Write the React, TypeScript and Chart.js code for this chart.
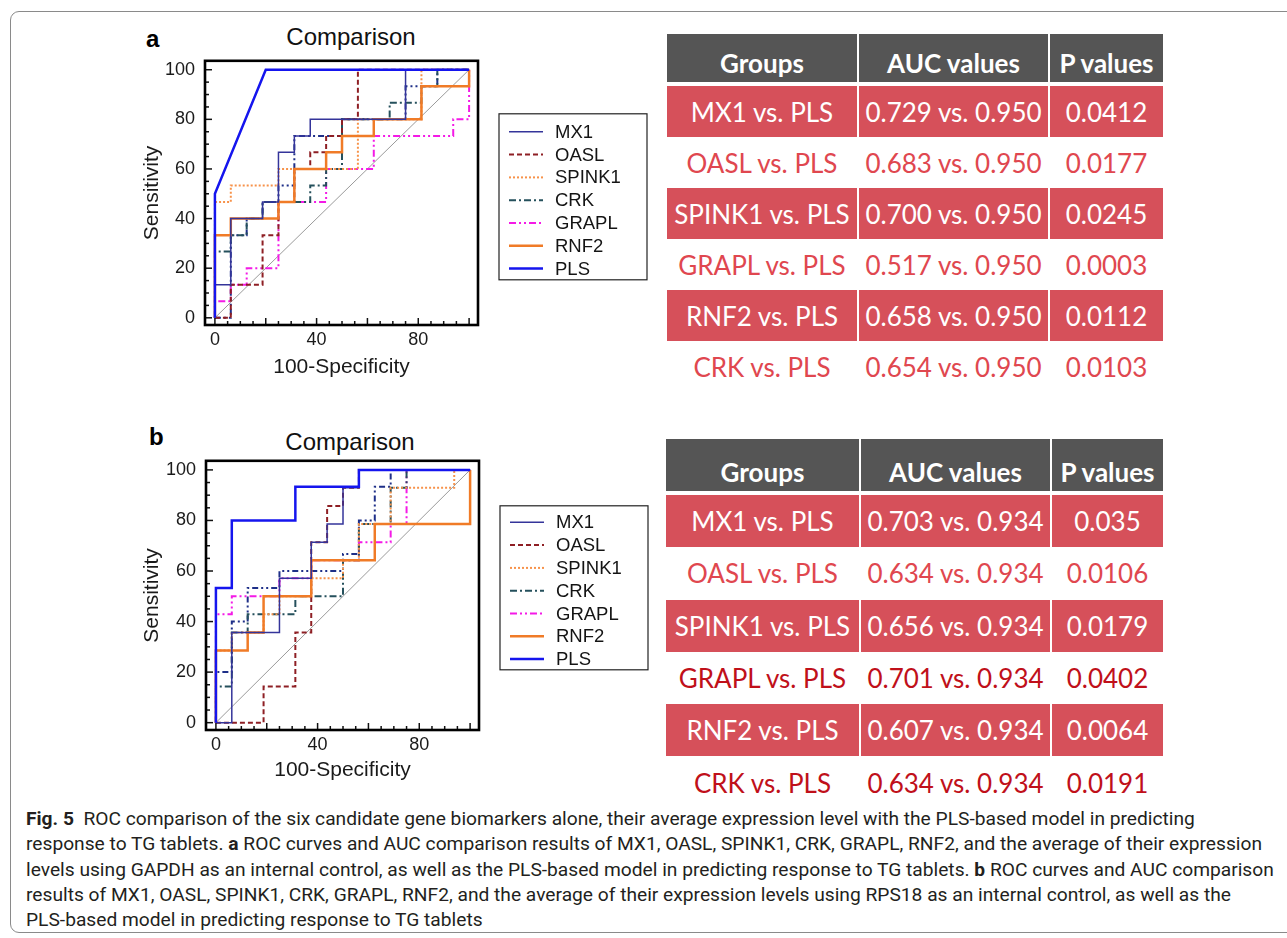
import React, { useEffect, useRef } from 'react';
import { Chart, registerables } from 'chart.js';

Chart.register(...registerables);

type Pt = [number, number];

// ---------- data ----------
const seriesNames = ['MX1', 'OASL', 'SPINK1', 'CRK', 'GRAPL', 'RNF2', 'PLS'];
const xTickValues = [0, 40, 80];
const yTickValues = [0, 20, 40, 60, 80, 100];
const refLine: Pt[] = [[0, 0], [100, 100]];

// panel a (GAPDH)
const aMX1: Pt[] = [[0, 0], [0, 13.3], [6.25, 13.3], [6.25, 40], [18.75, 40], [18.75, 46.7], [25, 46.7], [25, 66.7], [31.25, 66.7], [31.25, 73.3], [37.5, 73.3], [37.5, 80], [75, 80], [75, 100], [100, 100]];
const aOASL: Pt[] = [[0, 0], [6.25, 0], [6.25, 13.3], [18.75, 13.3], [18.75, 33.3], [25, 33.3], [25, 46.7], [31.25, 46.7], [31.25, 60], [37.5, 60], [37.5, 66.7], [43.75, 66.7], [43.75, 73.3], [50, 73.3], [50, 80], [56.25, 80], [56.25, 100], [100, 100]];
const aSPINK1: Pt[] = [[0, 0], [0, 46.7], [6.25, 46.7], [6.25, 53.3], [25, 53.3], [25, 60], [56.25, 60], [56.25, 80], [81.25, 80], [81.25, 100], [100, 100]];
const aCRK: Pt[] = [[0, 0], [0, 26.7], [6.25, 26.7], [6.25, 33.3], [12.5, 33.3], [12.5, 40], [18.75, 40], [18.75, 46.7], [37.5, 46.7], [37.5, 53.3], [43.75, 53.3], [43.75, 60], [50, 60], [50, 80], [68.75, 80], [68.75, 86.7], [81.25, 86.7], [81.25, 93.3], [87.5, 93.3], [87.5, 100], [100, 100]];
const aGRAPL: Pt[] = [[0, 0], [0, 6.7], [6.25, 6.7], [6.25, 13.3], [12.5, 13.3], [12.5, 20], [25, 20], [25, 46.7], [43.75, 46.7], [43.75, 60], [62.5, 60], [62.5, 73.3], [93.75, 73.3], [93.75, 80], [100, 80], [100, 100]];
const aRNF2: Pt[] = [[0, 0], [0, 33.3], [6.25, 33.3], [6.25, 40], [25, 40], [25, 46.7], [31.25, 46.7], [31.25, 60], [43.75, 60], [43.75, 66.7], [50, 66.7], [50, 73.3], [62.5, 73.3], [62.5, 80], [81.25, 80], [81.25, 93.3], [100, 93.3], [100, 100]];
const aPLS: Pt[] = [[0, 0], [0, 50], [20, 100], [100, 100]];
const aAverage: Pt[] = [[0, 0], [6.25, 0], [6.25, 33.3], [12.5, 33.3], [12.5, 40], [18.75, 40], [18.75, 46.7], [25, 46.7], [25, 53.3], [31.25, 53.3], [31.25, 73.3], [50, 73.3], [50, 80], [75, 80], [75, 93.3], [87.5, 93.3], [87.5, 100], [100, 100]];

// panel b (RPS18)
const bMX1: Pt[] = [[0, 0], [6.25, 0], [6.25, 35.7], [25, 35.7], [25, 57.1], [37.5, 57.1], [37.5, 71.4], [43.75, 71.4], [43.75, 78.6], [50, 78.6], [50, 92.9], [56.25, 92.9], [56.25, 100], [100, 100]];
const bOASL: Pt[] = [[0, 0], [18.75, 0], [18.75, 14.3], [31.25, 14.3], [31.25, 35.7], [37.5, 35.7], [37.5, 71.4], [43.75, 71.4], [43.75, 85.7], [50, 85.7], [50, 92.9], [56.25, 92.9], [56.25, 100], [100, 100]];
const bSPINK1: Pt[] = [[0, 0], [0, 28.6], [6.25, 28.6], [6.25, 35.7], [18.75, 35.7], [18.75, 42.9], [25, 42.9], [25, 50], [37.5, 50], [37.5, 57.1], [50, 57.1], [50, 64.3], [56.25, 64.3], [56.25, 78.6], [68.75, 78.6], [68.75, 92.9], [93.75, 92.9], [93.75, 100], [100, 100]];
const bCRK: Pt[] = [[0, 0], [0, 14.3], [6.25, 14.3], [6.25, 35.7], [12.5, 35.7], [12.5, 42.9], [31.25, 42.9], [31.25, 50], [50, 50], [50, 64.3], [56.25, 64.3], [56.25, 78.6], [68.75, 78.6], [68.75, 92.9], [75, 92.9], [75, 100], [100, 100]];
const bGRAPL: Pt[] = [[0, 0], [0, 42.9], [6.25, 42.9], [6.25, 50], [25, 50], [25, 57.1], [37.5, 57.1], [37.5, 64.3], [56.25, 64.3], [56.25, 71.4], [68.75, 71.4], [68.75, 78.6], [75, 78.6], [75, 100], [100, 100]];
const bRNF2: Pt[] = [[0, 0], [0, 28.6], [12.5, 28.6], [12.5, 35.7], [18.75, 35.7], [18.75, 50], [37.5, 50], [37.5, 64.3], [62.5, 64.3], [62.5, 78.6], [100, 78.6], [100, 100]];
const bPLS: Pt[] = [[0, 0], [0, 53.3], [6.25, 53.3], [6.25, 80], [31.25, 80], [31.25, 93.3], [56.25, 93.3], [56.25, 100], [100, 100]];
const bAverage: Pt[] = [[0, 0], [0, 20], [6.25, 20], [6.25, 40], [12.5, 40], [12.5, 53.3], [25, 53.3], [25, 60], [50, 60], [50, 66.7], [56.25, 66.7], [56.25, 80], [62.5, 80], [62.5, 93.3], [68.75, 93.3], [68.75, 100], [100, 100]];

// tables
const tableHeaders = ['Groups', 'AUC values', 'P values'];
const groupsA = ['MX1 vs. PLS', 'OASL vs. PLS', 'SPINK1 vs. PLS', 'GRAPL vs. PLS', 'RNF2 vs. PLS', 'CRK vs. PLS'];
const aucA = ['0.729 vs. 0.950', '0.683 vs. 0.950', '0.700 vs. 0.950', '0.517 vs. 0.950', '0.658 vs. 0.950', '0.654 vs. 0.950'];
const pA = ['0.0412', '0.0177', '0.0245', '0.0003', '0.0112', '0.0103'];
const groupsB = ['MX1 vs. PLS', 'OASL vs. PLS', 'SPINK1 vs. PLS', 'GRAPL vs. PLS', 'RNF2 vs. PLS', 'CRK vs. PLS'];
const aucB = ['0.703 vs. 0.934', '0.634 vs. 0.934', '0.656 vs. 0.934', '0.701 vs. 0.934', '0.607 vs. 0.934', '0.634 vs. 0.934'];
const pB = ['0.035', '0.0106', '0.0179', '0.0402', '0.0064', '0.0191'];

// ---------- styles ----------
const lineStyles: Record<string, { color: string; width: number; dash: number[] }> = {
  MX1: { color: '#34349a', width: 1.5, dash: [] },
  OASL: { color: '#8e1f24', width: 2, dash: [5, 3] },
  SPINK1: { color: '#f7924a', width: 2, dash: [2, 2] },
  CRK: { color: '#25505c', width: 2, dash: [7, 3, 2, 3] },
  GRAPL: { color: '#f41ae6', width: 2, dash: [7, 3, 2, 3, 2, 3] },
  RNF2: { color: '#f07b27', width: 2.5, dash: [] },
  PLS: { color: '#1515ee', width: 2.5, dash: [] },
  Average: { color: '#1e2f88', width: 2, dash: [6, 3, 2, 3, 2, 3] },
};

const ARIAL = '"Liberation Sans", Arial, Helvetica, sans-serif';

const rocDecor = {
  id: 'rocDecor',
  afterDraw(chart: any, _args: any, opts: any) {
    const { ctx, chartArea: ca, scales } = chart;
    const x = scales.x;
    const y = scales.y;
    ctx.save();
    ctx.setLineDash([]);
    ctx.strokeStyle = '#111';
    ctx.lineWidth = 1.5;
    for (let v = 0; v <= 100; v += 5) {
      const len = v % 20 === 0 ? 7 : 4;
      const px = x.getPixelForValue(v);
      ctx.beginPath();
      ctx.moveTo(px, ca.bottom);
      ctx.lineTo(px, ca.bottom - len);
      ctx.stroke();
      const py = y.getPixelForValue(v);
      ctx.beginPath();
      ctx.moveTo(ca.left, py);
      ctx.lineTo(ca.left + len, py);
      ctx.stroke();
    }
    ctx.lineWidth = 2.6;
    ctx.strokeStyle = '#000';
    ctx.strokeRect(ca.left, ca.top, ca.right - ca.left, ca.bottom - ca.top);

    // legend
    const lx = ca.right + opts.dx;
    const ly = ca.top + opts.dy;
    ctx.lineWidth = 1.2;
    ctx.strokeStyle = '#222';
    ctx.strokeRect(lx, ly, opts.w, opts.h);
    seriesNames.forEach((name, i) => {
      const st = lineStyles[name];
      const cy = ly + opts.first + i * opts.step;
      ctx.setLineDash(st.dash);
      ctx.strokeStyle = st.color;
      ctx.lineWidth = st.width;
      ctx.beginPath();
      ctx.moveTo(lx + 10, cy);
      ctx.lineTo(lx + 44, cy);
      ctx.stroke();
      ctx.setLineDash([]);
      ctx.fillStyle = '#141414';
      ctx.font = `18.5px ${ARIAL}`;
      ctx.textBaseline = 'middle';
      ctx.textAlign = 'left';
      ctx.fillText(name, lx + 56, cy + 1);
    });
    ctx.restore();
  },
};

type Geom = {
  left: number; top: number; width: number; height: number;
  padTop: number; yWidth: number; xHeight: number; xTitlePad: number; yTitlePad: number;
  legendDy: number; legendFirst: number; legendH: number;
};

function RocChart({ curves, avg, geom }: { curves: Record<string, Pt[]>; avg: Pt[]; geom: Geom }) {
  const ref = useRef<HTMLCanvasElement>(null);
  useEffect(() => {
    if (!ref.current) return;
    const toXY = (pts: Pt[]) => pts.map(([x, y]) => ({ x, y }));
    const mk = (name: string, pts: Pt[]) => {
      const st = lineStyles[name];
      return {
        label: name,
        data: toXY(pts),
        showLine: true,
        borderColor: st.color,
        backgroundColor: st.color,
        borderWidth: st.width,
        borderDash: st.dash,
        pointRadius: 0,
        tension: 0,
        fill: false,
      };
    };
    const order = ['PLS', 'MX1', 'RNF2', 'OASL', 'SPINK1', 'CRK', 'GRAPL'];
    const datasets: any[] = order.map((n) => mk(n, curves[n]));
    datasets.push(mk('Average', avg));
    datasets.push({
      label: 'reference',
      data: toXY(refLine),
      showLine: true,
      borderColor: '#9a9a9a',
      borderWidth: 1,
      pointRadius: 0,
      fill: false,
    });
    const tickFont = { family: ARIAL, size: 18 };
    const titleFont = { family: ARIAL, size: 21 };
    const chart = new Chart(ref.current, {
      type: 'scatter',
      data: { datasets },
      plugins: [rocDecor],
      options: {
        animation: false,
        responsive: false,
        maintainAspectRatio: false,
        layout: { padding: { top: geom.padTop, right: geom.width - geom.yWidth - 273, left: 0, bottom: 0 } },
        plugins: {
          legend: { display: false },
          tooltip: { enabled: false },
          title: { display: false },
          rocDecor: { dx: 21, dy: geom.legendDy, w: 148, h: geom.legendH, first: geom.legendFirst, step: 22.8 },
        } as any,
        scales: {
          x: {
            type: 'linear',
            min: -3.9,
            max: 103.5,
            afterFit: (s: any) => { s.height = geom.xHeight; },
            afterBuildTicks: (s: any) => { s.ticks = xTickValues.map((v) => ({ value: v })); },
            grid: { display: false, drawTicks: false },
            border: { display: false },
            ticks: { font: tickFont, color: '#1a1a1a', padding: 4, maxRotation: 0 },
            title: { display: true, text: '100-Specificity', font: titleFont, color: '#1a1a1a', padding: { top: 0, bottom: geom.xTitlePad } },
          },
          y: {
            type: 'linear',
            min: -2.9,
            max: 103.6,
            afterFit: (s: any) => { s.width = geom.yWidth; },
            afterBuildTicks: (s: any) => { s.ticks = yTickValues.map((v) => ({ value: v })); },
            grid: { display: false, drawTicks: false },
            border: { display: false },
            ticks: { font: tickFont, color: '#1a1a1a', padding: 10 },
            title: { display: true, text: 'Sensitivity', font: titleFont, color: '#1a1a1a', padding: { top: geom.yTitlePad, bottom: 0 } },
          },
        },
      } as any,
    });
    return () => chart.destroy();
  }, []);
  return (
    <canvas
      ref={ref}
      width={geom.width}
      height={geom.height}
      style={{ position: 'absolute', left: geom.left, top: geom.top, width: geom.width, height: geom.height }}
    />
  );
}

const RED = '#d6505a';
const LIGHT_RED_TEXT = '#e0474f';
const DARK_RED_TEXT = '#c0101a';
const TABLE_FONT = 'Lato, "Open Sans", sans-serif';

function ResultTable({
  cols, headerTop, headerH, rowStart, rowH, groups, aucs, ps, whiteRowColors,
}: {
  cols: number[]; headerTop: number; headerH: number; rowStart: number; rowH: number;
  groups: string[]; aucs: string[]; ps: string[]; whiteRowColors: string[];
}) {
  const cells: React.ReactNode[] = [];
  const colLeft = (c: number) => cols[c];
  const colW = (c: number) => cols[c + 1] - cols[c] - (c < 2 ? 2 : 0);
  tableHeaders.forEach((h, c) => {
    cells.push(
      <div key={`h${c}`} style={{
        position: 'absolute', left: colLeft(c), top: headerTop, width: colW(c), height: headerH,
        background: '#555555', color: '#fff', fontWeight: 700, fontSize: 26, lineHeight: '26px',
        display: 'flex', alignItems: 'flex-end', justifyContent: 'center', paddingBottom: 6, boxSizing: 'border-box',
        fontFamily: TABLE_FONT, whiteSpace: 'nowrap',
      }}>{h}</div>
    );
  });
  groups.forEach((g, i) => {
    const red = i % 2 === 0;
    const vals = [g, aucs[i], ps[i]];
    vals.forEach((v, c) => {
      cells.push(
        <div key={`r${i}c${c}`} style={{
          position: 'absolute', left: colLeft(c), top: rowStart + i * rowH, width: colW(c), height: rowH,
          background: red ? RED : '#fff', color: red ? '#fff' : whiteRowColors[i],
          fontSize: 26, lineHeight: '26px', display: 'flex', alignItems: 'center', justifyContent: 'center',
          fontFamily: TABLE_FONT, whiteSpace: 'nowrap',
        }}>{v}</div>
      );
    });
  });
  return <>{cells}</>;
}

const CAPTION_FONT = 'Roboto, "Noto Sans", sans-serif';

export default function App() {
  const aCurves = { MX1: aMX1, OASL: aOASL, SPINK1: aSPINK1, CRK: aCRK, GRAPL: aGRAPL, RNF2: aRNF2, PLS: aPLS };
  const bCurves = { MX1: bMX1, OASL: bOASL, SPINK1: bSPINK1, CRK: bCRK, GRAPL: bGRAPL, RNF2: bRNF2, PLS: bPLS };
  const geomA: Geom = { left: 100, top: 40, width: 560, height: 350, padTop: 14, yWidth: 105, xHeight: 65, xTitlePad: 10.4, yTitlePad: 39.4, legendDy: 53, legendFirst: 18, legendH: 166 };
  const geomB: Geom = { left: 100, top: 440, width: 560, height: 350, padTop: 20, yWidth: 106, xHeight: 60, xTitlePad: 7.4, yTitlePad: 39.4, legendDy: 45, legendFirst: 16.5, legendH: 164 };
  const capLine: React.CSSProperties = { position: 'absolute', left: 26, whiteSpace: 'nowrap', fontFamily: CAPTION_FONT, fontSize: 19.2, lineHeight: '25px', color: '#231f20' };
  const capTop = 806;
  const capStep = 25.3;
  return (
    <div style={{ position: 'absolute', left: 0, top: 0, width: 1287, height: 938, overflow: 'hidden', background: '#fff' }}>
      <div style={{ position: 'absolute', left: 10, top: 11, width: 1300, height: 922, border: '1.5px solid #8a8a8a', borderRadius: 9, boxSizing: 'border-box' }} />

      <div style={{ position: 'absolute', left: 146, top: 26.5, fontFamily: ARIAL, fontWeight: 700, fontSize: 24, lineHeight: '24px' }}>a</div>
      <div style={{ position: 'absolute', left: 251, top: 24.5, width: 200, textAlign: 'center', fontFamily: ARIAL, fontSize: 24, lineHeight: '24px', color: '#111' }}>Comparison</div>
      <RocChart curves={aCurves} avg={aAverage} geom={geomA} />

      <div style={{ position: 'absolute', left: 149, top: 424.5, fontFamily: ARIAL, fontWeight: 700, fontSize: 24, lineHeight: '24px' }}>b</div>
      <div style={{ position: 'absolute', left: 250, top: 429.5, width: 200, textAlign: 'center', fontFamily: ARIAL, fontSize: 24, lineHeight: '24px', color: '#111' }}>Comparison</div>
      <RocChart curves={bCurves} avg={bAverage} geom={geomB} />

      <ResultTable cols={[667, 859, 1050, 1163]} headerTop={34} headerH={48} rowStart={86} rowH={51}
        groups={groupsA} aucs={aucA} ps={pA}
        whiteRowColors={[LIGHT_RED_TEXT, LIGHT_RED_TEXT, LIGHT_RED_TEXT, LIGHT_RED_TEXT, LIGHT_RED_TEXT, LIGHT_RED_TEXT]} />
      <ResultTable cols={[666, 861, 1052, 1163]} headerTop={439} headerH={52} rowStart={495} rowH={52.3}
        groups={groupsB} aucs={aucB} ps={pB}
        whiteRowColors={[LIGHT_RED_TEXT, LIGHT_RED_TEXT, LIGHT_RED_TEXT, DARK_RED_TEXT, LIGHT_RED_TEXT, DARK_RED_TEXT]} />

      <div style={{ ...capLine, top: capTop }}><b>Fig. 5</b>&nbsp; ROC comparison of the six candidate gene biomarkers alone, their average expression level with the PLS-based model in predicting</div>
      <div style={{ ...capLine, top: capTop + capStep }}>response to TG tablets. <b>a</b> ROC curves and AUC comparison results of MX1, OASL, SPINK1, CRK, GRAPL, RNF2, and the average of their expression</div>
      <div style={{ ...capLine, top: capTop + capStep * 2 }}>levels using GAPDH as an internal control, as well as the PLS-based model in predicting response to TG tablets. <b>b</b> ROC curves and AUC comparison</div>
      <div style={{ ...capLine, top: capTop + capStep * 3 }}>results of MX1, OASL, SPINK1, CRK, GRAPL, RNF2, and the average of their expression levels using RPS18 as an internal control, as well as the</div>
      <div style={{ ...capLine, top: capTop + capStep * 4 }}>PLS-based model in predicting response to TG tablets</div>
    </div>
  );
}
